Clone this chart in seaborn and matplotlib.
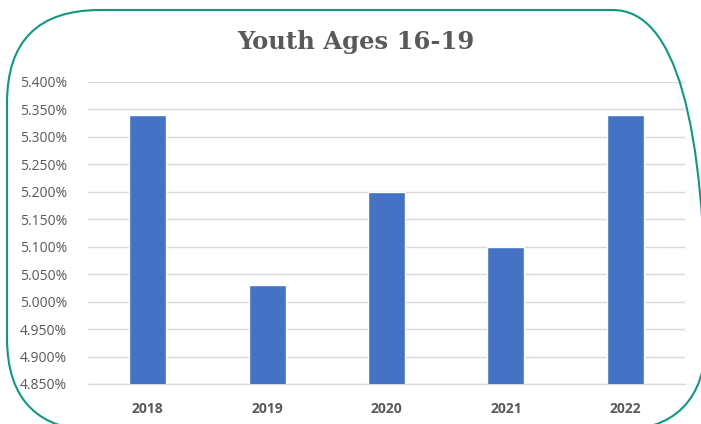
import matplotlib
matplotlib.use("Agg")
import matplotlib.pyplot as plt
import seaborn as sns
import pandas as pd
from matplotlib.patches import FancyBboxPatch
from matplotlib.transforms import IdentityTransform
from matplotlib.ticker import FuncFormatter, MultipleLocator

years = ["2018", "2019", "2020", "2021", "2022"]
rates = [5.34, 5.03, 5.20, 5.10, 5.34]
title = "Youth Ages 16-19"

df = pd.DataFrame({"year": years, "rate": rates})

sns.set_theme(style="white")
plt.rcParams['font.family'] = ['Open Sans', 'DejaVu Sans']

W, H = 701, 424
fig = plt.figure(figsize=(W / 100, H / 100), dpi=100)
ax = fig.add_axes([88 / W, 1 - 384 / H, (685 - 88) / W, (384 - 82) / H])

sns.barplot(data=df, x="year", y="rate", color="#4472C4", width=0.31,
            saturation=1, ax=ax, zorder=3)

ax.set_ylim(4.85, 5.40)
ax.yaxis.set_major_locator(MultipleLocator(0.05))
ax.yaxis.set_major_formatter(FuncFormatter(lambda v, p: f"{v:.3f}%"))
ax.grid(axis="y", color="#d9d9d9", linewidth=1, zorder=0)
ax.set_axisbelow(True)
for s in ["top", "right", "left"]:
    ax.spines[s].set_visible(False)
ax.spines["bottom"].set_color("#d9d9d9")
ax.spines["bottom"].set_linewidth(1)
ax.set_xlabel("")
ax.set_ylabel("")
ax.tick_params(axis="y", length=0, pad=15, labelsize=10, labelcolor="#595959")
ax.tick_params(axis="x", length=0, pad=13, labelsize=10, labelcolor="#595959")
for t in ax.get_xticklabels():
    t.set_fontweight("bold")

fig.text(356 / W, 1 - 42 / H, title, ha="center", va="center",
         fontsize=17.5, fontweight="bold", color="#595959", family="DejaVu Serif")

# rounded frame, in pixel units (display coords, origin bottom-left)
x0, x1, top, bottom = 7, 706, 10, 431
box = FancyBboxPatch((x0, H - bottom), x1 - x0, bottom - top,
                     boxstyle="round,pad=0,rounding_size=93",
                     transform=IdentityTransform(), fill=False,
                     edgecolor="#0E9A80", linewidth=1.5, clip_on=False)
fig.patches.append(box)

fig.savefig("out.png", dpi=100)
